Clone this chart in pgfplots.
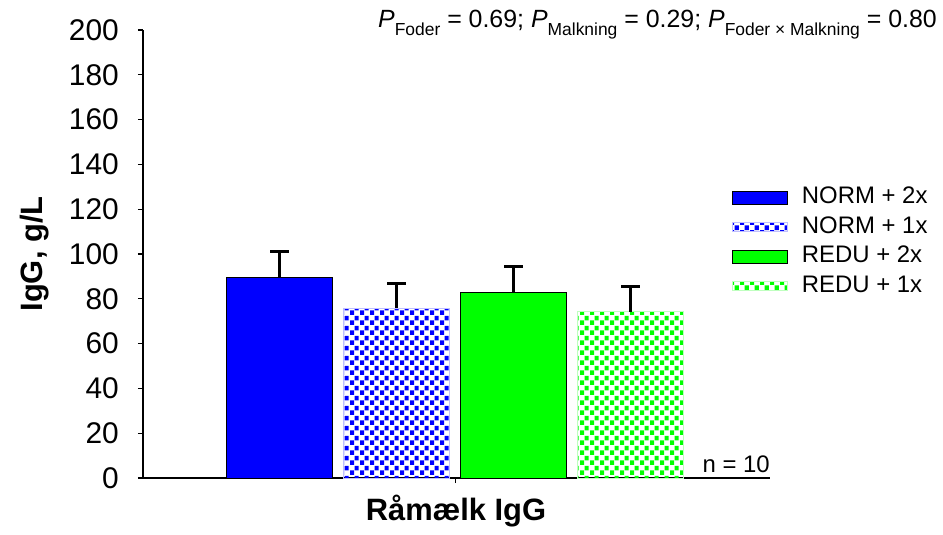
\documentclass[border=0pt]{standalone}
\usepackage{fontspec}
\setmainfont{Liberation Sans}
\usepackage{pgfplots}
\pgfplotsset{compat=1.18}
\usetikzlibrary{patterns.meta}
\definecolor{sblue}{RGB}{0,0,255}
\definecolor{sgreen}{RGB}{0,255,0}
\tikzdeclarepattern{
  name=checker,
  type=uncolored,
  bounding box={(0,0) and (10bp,10bp)},
  tile size={(10bp,10bp)},
  code={
    \fill (0bp,0bp) rectangle (4.5bp,5bp);
    \fill (5bp,5bp) rectangle (9.5bp,10bp);
  }
}
\begin{document}
\begin{tikzpicture}
\path[use as bounding box] (-143bp,-57bp) rectangle (800bp,478bp);
\begin{axis}[
  at={(0,0)}, anchor=south west,
  scale only axis, width=627bp, height=448bp,
  xmin=-0.17, xmax=5.19, ymin=0, ymax=200,
  axis x line*=bottom, axis y line*=left,
  axis line style={line width=2bp, -},
  ytick={0,20,...,200}, xtick={2.5}, xticklabels={},
  tick align=outside, major tick length=5bp,
  every tick/.style={black, line width=1.3bp},
  tick label style={font=\fontsize{30}{30}\selectfont},
  yticklabel style={inner sep=0pt, xshift=-19bp},
  /pgf/number format/assume math mode=true,
  ybar, bar width=106bp,
  clip=false,
  legend cell align=left,
  legend style={draw=none, fill=none, at={(rel axis cs:0.939,0.655)}, anchor=north west,
    font=\fontsize{24}{24}\selectfont, inner sep=0pt, row sep=3.5bp,
    nodes={inner sep=1bp, text height=18bp, text depth=6bp},
    /tikz/every odd column/.append style={column sep=13bp}},
  legend image code/.code={\draw[#1, line width=1bp] (0bp,-6.5bp) rectangle (55bp,6.5bp);},
]
\addplot[fill=sblue, draw=black, line width=1bp, bar shift=0pt,
  error bars/.cd, y dir=plus, y explicit,
  error bar style={line width=3bp, black},
  error mark options={rotate=90, line width=3bp, mark size=9.5bp, black}]
  coordinates {(1,89.7) +- (0,11.2)};
\addlegendentry{NORM + 2x}
\addplot[pattern={checker}, pattern color=sblue, draw=sblue!25, line width=0.8bp, bar shift=0pt,
  legend image code/.code={\fill[pattern={checker}, pattern color=sblue] (0bp,-4.5bp) rectangle (55bp,4.5bp);},
  error bars/.cd, y dir=plus, y explicit,
  error bar style={line width=3bp, black},
  error mark options={rotate=90, line width=3bp, mark size=9.5bp, black}]
  coordinates {(2,75.8) +- (0,11.1)};
\addlegendentry{NORM + 1x}
\addplot[fill=sgreen, draw=black, line width=1bp, bar shift=0pt,
  error bars/.cd, y dir=plus, y explicit,
  error bar style={line width=3bp, black},
  error mark options={rotate=90, line width=3bp, mark size=9.5bp, black}]
  coordinates {(3,82.9) +- (0,11.3)};
\addlegendentry{REDU + 2x}
\addplot[pattern={checker}, pattern color=sgreen, draw=sgreen!25, line width=0.8bp, bar shift=0pt,
  legend image code/.code={\fill[pattern={checker}, pattern color=sgreen] (0bp,-4.5bp) rectangle (55bp,4.5bp);},
  error bars/.cd, y dir=plus, y explicit,
  error bar style={line width=3bp, black},
  error mark options={rotate=90, line width=3bp, mark size=9.5bp, black}]
  coordinates {(4,74.2) +- (0,11.4)};
\addlegendentry{REDU + 1x}
\end{axis}
\node[rotate=90, font=\fontsize{31}{31}\selectfont\bfseries] at (-108bp,224bp) {IgG, g/L};
\node[anchor=base, font=\fontsize{31}{31}\selectfont\bfseries] at (313bp,-42bp) {Råmælk IgG};
\node[anchor=base east, inner sep=0pt, font=\fontsize{24}{24}\selectfont] at (627bp,6bp) {n = 10};
\node[anchor=base east, inner sep=0pt, font=\fontsize{25}{25}\selectfont] at (794bp,450bp)
  {\textit{P}\raisebox{-0.3em}{\fontsize{17.5}{17.5}\selectfont Foder} = 0.69; \textit{P}\raisebox{-0.3em}{\fontsize{17.5}{17.5}\selectfont Malkning} = 0.29; \textit{P}\raisebox{-0.3em}{\fontsize{17.5}{17.5}\selectfont Foder × Malkning} = 0.80};
\end{tikzpicture}
\end{document}
